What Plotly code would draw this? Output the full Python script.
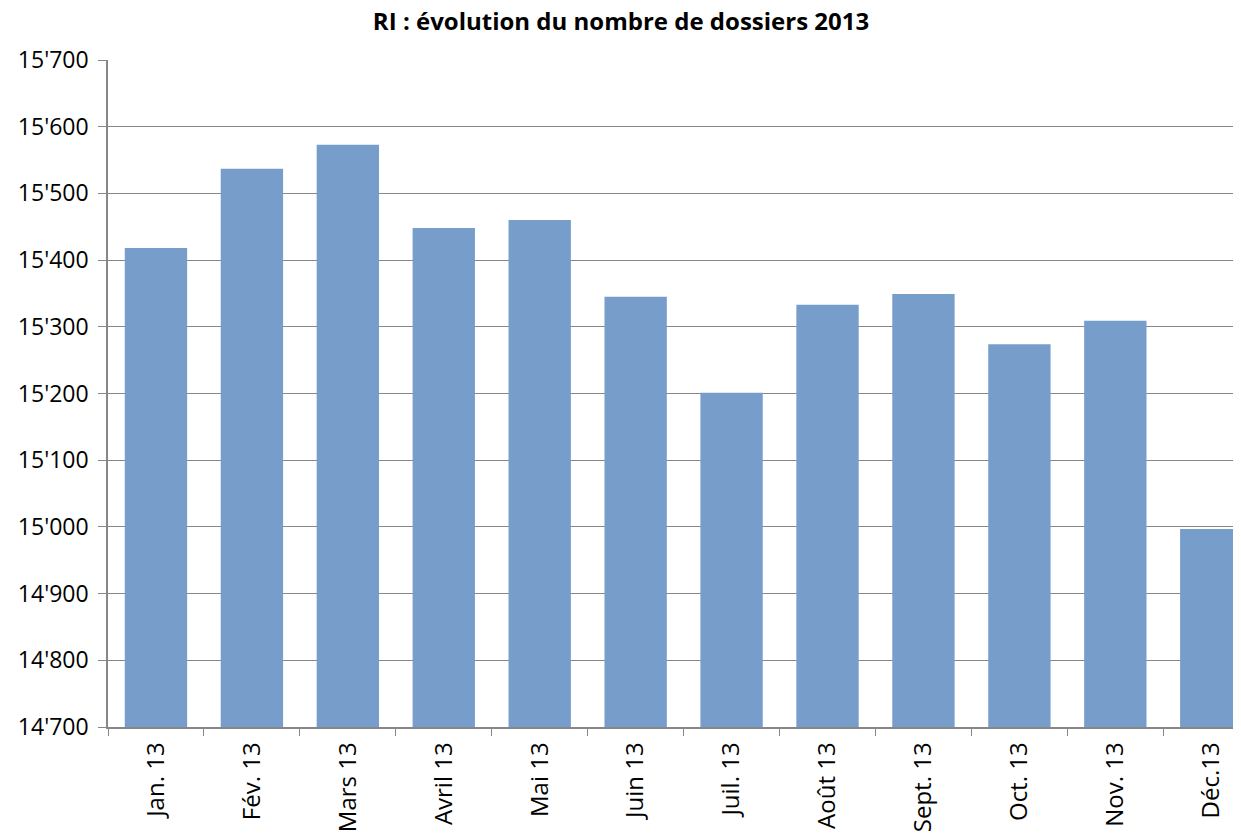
import plotly.graph_objects as go

months = ['Jan. 13', 'Fév. 13', 'Mars 13', 'Avril 13', 'Mai 13', 'Juin 13',
          'Juil. 13', 'Août 13', 'Sept. 13', 'Oct. 13', 'Nov. 13', 'Déc.13']
dossiers = [15418, 15537, 15573, 15448, 15460, 15345,
            15201, 15333, 15349, 15274, 15309, 14997]
y_ticks = [14700, 14800, 14900, 15000, 15100, 15200, 15300, 15400, 15500, 15600, 15700]
y_labels = ["14'700", "14'800", "14'900", "15'000", "15'100", "15'200",
            "15'300", "15'400", "15'500", "15'600", "15'700"]

fig = go.Figure()
fig.add_trace(go.Bar(
    x=months,
    y=dossiers,
    marker=dict(color='#779ECB', line=dict(width=0)),
))

# page body adds an 8px offset, margins are set to compensate
fig.update_layout(
    width=1241,
    height=835,
    margin=dict(l=100, r=8, t=52, b=116),
    plot_bgcolor='white',
    paper_bgcolor='white',
    bargap=0.35,
    showlegend=False,
    font=dict(family='Open Sans, Lato, sans-serif', color='#000000'),
    title=dict(
        text='<b>RI : évolution du nombre de dossiers 2013</b>',
        x=0.494, xanchor='center', y=0.984, yanchor='middle',
        font=dict(size=24, color='#000000'),
    ),
)

fig.update_xaxes(
    range=[-0.5, 11.31],
    showline=True, linecolor='#878787', linewidth=1.5,
    ticks='outside', tickson='boundaries', ticklen=7, tickcolor='#878787',
    tickangle=-90, tickfont=dict(size=24), ticklabelstandoff=4,
    showgrid=False,
)

fig.update_yaxes(
    range=[14700, 15700],
    tickvals=y_ticks, ticktext=y_labels,
    showline=True, linecolor='#878787', linewidth=1.5,
    ticks='outside', ticklen=8, tickcolor='#878787',
    tickfont=dict(size=23), ticklabelstandoff=5,
    showgrid=True, gridcolor='#878787', gridwidth=1.2,
    zeroline=False,
)

fig.write_html("out.html")
